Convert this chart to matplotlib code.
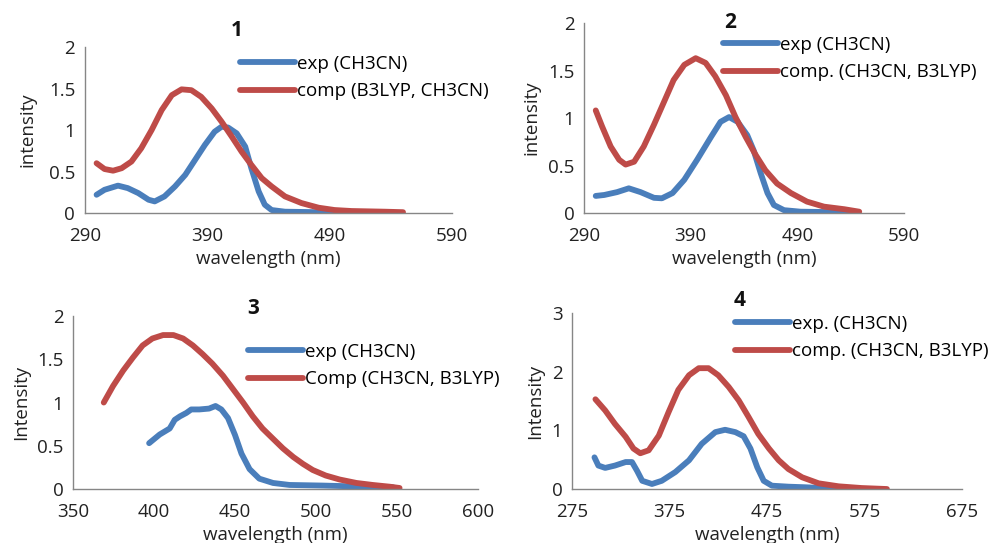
import numpy as np
import matplotlib
matplotlib.use('Agg')
import matplotlib.pyplot as plt

plt.rcParams['font.family'] = ['Open Sans', 'DejaVu Sans']

BLUE = '#4a7ebb'
RED = '#be4b48'
GREY = '#868686'

# spectrum 1
wl1_exp = [299.5, 306, 317, 325, 333.6, 342, 347, 355, 363.6, 372, 380, 388, 396, 401.7, 407, 414, 421,
           426, 432, 437, 442.6, 453.5, 481, 502]
in1_exp = [0.22, 0.28, 0.33, 0.30, 0.24, 0.16, 0.14, 0.20, 0.32, 0.46, 0.64, 0.82, 0.98, 1.04, 1.03, 0.96, 0.80,
           0.54, 0.26, 0.10, 0.036, 0.016, 0.01, 0.0]
wl1_comp = [299.5, 306, 313, 320, 328, 336, 344.5, 352.7, 361, 369, 377, 385, 393.6, 401.7, 410, 418, 426,
            434.5, 442.6, 453.5, 467, 481, 494, 508, 535, 550]
in1_comp = [0.60, 0.53, 0.51, 0.54, 0.62, 0.78, 1.0, 1.24, 1.42, 1.49, 1.48, 1.40, 1.26, 1.10, 0.92, 0.74, 0.58,
            0.42, 0.32, 0.20, 0.12, 0.064, 0.036, 0.024, 0.016, 0.01]

# spectrum 2
wl2_exp = [301, 309, 321, 332, 343, 355.6, 363, 373, 384, 396, 409, 418, 426, 434, 443, 449, 455.6, 462,
           468, 477.5, 493, 540]
in2_exp = [0.18, 0.19, 0.22, 0.26, 0.22, 0.16, 0.155, 0.21, 0.35, 0.56, 0.80, 0.96, 1.01, 0.96, 0.82, 0.66,
           0.42, 0.21, 0.084, 0.03, 0.014, 0.007]
wl2_comp = [301, 307, 315, 323, 329, 337, 346, 355.6, 365, 374, 384, 394.7, 404, 413, 423, 432, 441.6, 451,
            460, 471, 484, 499, 515, 534, 548]
in2_comp = [1.08, 0.91, 0.70, 0.56, 0.51, 0.54, 0.70, 0.93, 1.17, 1.40, 1.56, 1.63, 1.58, 1.44, 1.24, 1.01,
            0.80, 0.61, 0.45, 0.31, 0.21, 0.12, 0.067, 0.04, 0.014]

# spectrum 3
wl3_exp = [397, 403.5, 409.7, 412.8, 416, 420, 423, 428, 434, 438, 441.6, 445.7, 450, 454, 459, 465, 473.5,
           483.7, 504, 525, 547.5]
in3_exp = [0.53, 0.63, 0.70, 0.80, 0.84, 0.88, 0.92, 0.92, 0.93, 0.96, 0.92, 0.82, 0.625, 0.41, 0.23, 0.12,
           0.07, 0.047, 0.04, 0.03, 0.02]
wl3_comp = [369, 374.7, 381, 387, 393, 399, 405.6, 412, 418, 424, 430, 436, 442.6, 449, 455, 461, 467, 473,
            479.6, 486, 492, 498, 506, 514.6, 525, 535, 545.5, 551.6]
in3_comp = [1.0, 1.19, 1.37, 1.52, 1.66, 1.74, 1.78, 1.78, 1.74, 1.66, 1.56, 1.45, 1.31, 1.15, 1.0, 0.84, 0.70,
            0.59, 0.47, 0.37, 0.29, 0.22, 0.156, 0.11, 0.07, 0.047, 0.027, 0.012]

# spectrum 4
wl4_exp = [298, 302, 309, 319, 330, 336.5, 341.7, 347, 357, 367, 381, 395, 408, 422, 432, 442.5, 451, 458,
           465, 471.6, 480, 497, 514, 542, 555]
in4_exp = [0.54, 0.40, 0.36, 0.40, 0.46, 0.46, 0.31, 0.14, 0.086, 0.14, 0.29, 0.49, 0.77, 0.97, 1.01, 0.97,
           0.90, 0.69, 0.37, 0.14, 0.057, 0.04, 0.03, 0.01, 0.0]
wl4_comp = [299, 309, 319, 330, 338, 345, 353.6, 364, 374, 384, 395, 405, 415, 425, 435.7, 446, 456, 466, 477,
            487, 497, 511, 528, 548.5, 572, 598]
in4_comp = [1.53, 1.34, 1.11, 0.89, 0.69, 0.61, 0.66, 0.91, 1.31, 1.69, 1.94, 2.06, 2.06, 1.94, 1.74, 1.51,
            1.23, 0.94, 0.69, 0.49, 0.34, 0.2, 0.097, 0.046, 0.017, 0.0]

panels = [
    dict(title='1', exp=(wl1_exp, in1_exp), comp=(wl1_comp, in1_comp),
         labels=['exp (CH3CN)', 'comp (B3LYP, CH3CN)'], ylabel='intensity',
         xlim=(290, 590), xticks=[290, 390, 490, 590], ylim=(0, 2), yticks=[0, 0.5, 1, 1.5, 2],
         rect=[0.0859, 0.6077, 0.3711, 0.3057], title_xy=(237, 30), leg_xy=(240, 55), ylpad=9),
    dict(title='2', exp=(wl2_exp, in2_exp), comp=(wl2_comp, in2_comp),
         labels=['exp (CH3CN)', 'comp. (CH3CN, B3LYP)'], ylabel='intensity',
         xlim=(290, 590), xticks=[290, 390, 490, 590], ylim=(0, 2), yticks=[0, 0.5, 1, 1.5, 2],
         rect=[0.5905, 0.6077, 0.3236, 0.3499], title_xy=(730, 23), leg_xy=(723, 36), ylpad=5),
    dict(title='3', exp=(wl3_exp, in3_exp), comp=(wl3_comp, in3_comp),
         labels=['exp (CH3CN)', 'Comp (CH3CN, B3LYP)'], ylabel='Intensity',
         xlim=(350, 600), xticks=[350, 400, 450, 500, 550, 600], ylim=(0, 2), yticks=[0, 0.5, 1, 1.5, 2],
         rect=[0.0738, 0.0994, 0.4095, 0.3186], title_xy=(253, 308), leg_xy=(248, 343), ylpad=5),
    dict(title='4', exp=(wl4_exp, in4_exp), comp=(wl4_comp, in4_comp),
         labels=['exp. (CH3CN)', 'comp. (CH3CN, B3LYP)'], ylabel='Intensity',
         xlim=(275, 675), xticks=[275, 375, 475, 575, 675], ylim=(0, 3), yticks=[0, 1, 2, 3],
         rect=[0.5784, 0.0994, 0.3943, 0.3241], title_xy=(740, 300), leg_xy=(735, 315), ylpad=5),
]

W, H = 989, 543
fig = plt.figure(figsize=(W / 100, H / 100), dpi=100)

for p in panels:
    ax = fig.add_axes(p['rect'])
    l1, = ax.plot(*p['exp'], color=BLUE, lw=4.2, solid_capstyle='round', solid_joinstyle='round')
    l2, = ax.plot(*p['comp'], color=RED, lw=4.2, solid_capstyle='round', solid_joinstyle='round')
    ax.set_xlim(*p['xlim'])
    ax.set_ylim(*p['ylim'])
    ax.set_xticks(p['xticks'])
    ax.set_yticks(p['yticks'])
    ax.set_yticklabels(['%g' % v for v in p['yticks']])
    ax.tick_params(length=0, labelsize=13.5, colors='#222222')
    ax.tick_params(axis='x', pad=10)
    ax.tick_params(axis='y', pad=7)
    for s in ['top', 'right']:
        ax.spines[s].set_visible(False)
    for s in ['left', 'bottom']:
        ax.spines[s].set_color(GREY)
        ax.spines[s].set_linewidth(1.0)
    ax.set_xlabel('wavelength (nm)', fontsize=13.5, color='#222222', labelpad=4)
    ax.set_ylabel(p['ylabel'], fontsize=13.5, color='#222222', labelpad=p['ylpad'])
    tx, ty = p['title_xy']
    fig.text(tx / W, 1 - ty / H, p['title'], fontsize=15, fontweight='bold',
             ha='center', va='center', color='#111111')
    lx, ly = p['leg_xy']
    leg = ax.legend([l1, l2], p['labels'], loc='upper left', bbox_to_anchor=(lx / W, 1 - ly / H),
                    bbox_transform=fig.transFigure, frameon=False, fontsize=13.5,
                    handlelength=2.95, handletextpad=0.1, borderaxespad=0, borderpad=0,
                    labelspacing=0.5)
    for h in leg.get_lines():
        h.set_linewidth(4.2)

fig.savefig('out.png', dpi=100)
